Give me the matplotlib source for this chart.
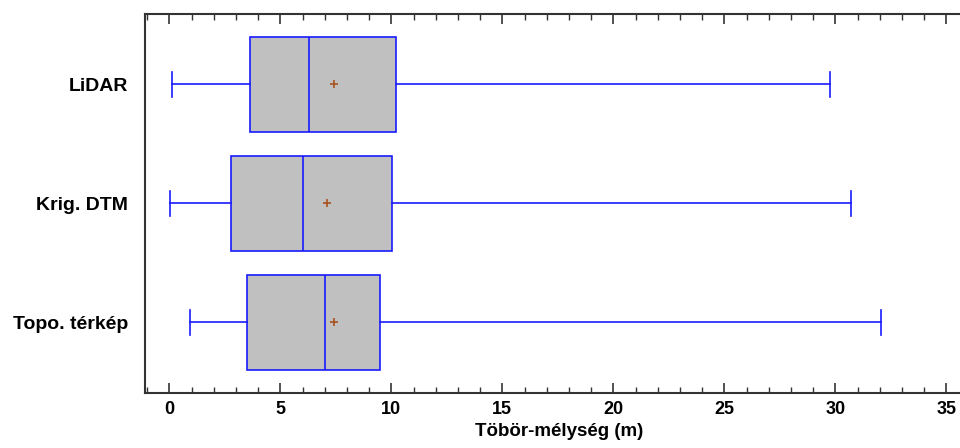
import matplotlib.pyplot as plt
from matplotlib.ticker import MultipleLocator

plt.rcParams['font.family'] = ['Liberation Sans', 'DejaVu Sans']

# Tölgyes töbör-mélységek összefoglaló statisztikái (m)
csoportok = ['Topo. térkép', 'Krig. DTM', 'LiDAR']
minimum = [0.95, 0.05, 0.14]
also_kvartilis = [3.48, 2.79, 3.65]
median = [7.0, 6.02, 6.29]
atlag = [7.41, 7.10, 7.41]
felso_kvartilis = [9.47, 10.03, 10.22]
maximum = [32.04, 30.70, 29.77]

stats = []
for i in range(len(csoportok)):
    stats.append({
        'label': csoportok[i],
        'whislo': minimum[i],
        'q1': also_kvartilis[i],
        'med': median[i],
        'mean': atlag[i],
        'q3': felso_kvartilis[i],
        'whishi': maximum[i],
    })

kek = '#1a1aff'
fig = plt.figure(figsize=(9.6, 4.48), dpi=100)
# a jobb szél kilóg a képből
ax = fig.add_axes([0.151, 0.1234, 0.8625, 0.8454])

ax.bxp(stats, positions=[1, 2, 3], orientation='horizontal', widths=0.8,
       capwidths=0.21, patch_artist=True, showmeans=True, showfliers=False,
       boxprops=dict(facecolor='#c0c0c0', edgecolor=kek, linewidth=1.2),
       medianprops=dict(color=kek, linewidth=1.2),
       whiskerprops=dict(color=kek, linewidth=1.2),
       capprops=dict(color=kek, linewidth=1.2),
       meanprops=dict(marker='+', markeredgecolor='#a9521f', markersize=6,
                      markeredgewidth=1.2))

ax.set_xlim(-1.1, 36.2)
ax.set_ylim(0.41, 3.59)
ax.xaxis.set_major_locator(MultipleLocator(5))
ax.xaxis.set_minor_locator(MultipleLocator(1))
ax.tick_params(axis='x', which='both', direction='in', top=True, bottom=True,
               color='#333333', labelsize=13)
ax.tick_params(axis='x', which='major', length=7, width=1.2, pad=6)
ax.tick_params(axis='x', which='minor', length=4, width=1)
ax.tick_params(axis='y', length=0, pad=12, labelsize=14)
for lbl in ax.get_xticklabels() + ax.get_yticklabels():
    lbl.set_fontweight('bold')

ax.spines['right'].set_visible(False)
for s in ['left', 'top', 'bottom']:
    ax.spines[s].set_color('#333333')
    ax.spines[s].set_linewidth(1.5)

ax.set_xlabel('Töbör-mélység (m)', fontsize=13.5, fontweight='bold')
ax.xaxis.set_label_coords(0.5, -0.081)

fig.savefig('out.png')
